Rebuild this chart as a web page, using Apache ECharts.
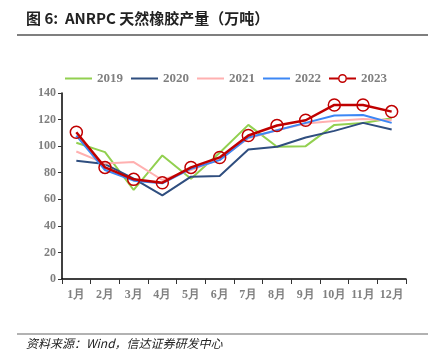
<!DOCTYPE html>
<html><head><meta charset="utf-8">
<script src="https://cdn.jsdelivr.net/npm/echarts@6/dist/echarts.min.js"></script>
<style>html,body{margin:0;padding:0;background:#fff;}#c{width:440px;height:363px;}</style>
</head><body><div id="c"></div>
<script>
const categories = ['1月','2月','3月','4月','5月','6月','7月','8月','9月','10月','11月','12月'];
const yTicks = [0,20,40,60,80,100,120,140];
const s2019 = [102.5, 95.5, 67, 93, 75.5, 95, 116, 99.5, 100, 116, 117.5, 121];
const s2020 = [89, 86.5, 75.5, 63, 77, 77.5, 97.5, 99.5, 106.5, 111.5, 117.5, 112.5];
const s2021 = [96, 87, 88, 74.5, 82, 90, 106, 112, 117, 119, 120.5, 119.5];
const s2022 = [108, 82, 74, 72, 83, 89.5, 106.5, 112, 117.5, 123, 123.5, 117.5];
const s2023 = [110.5, 84, 75, 72.5, 84, 91.5, 108, 115.5, 119.5, 131, 131, 126];

const colors = {'2019':'#92D050','2020':'#2F4E7F','2021':'#FFB0B0','2022':'#3C87F5','2023':'#C00000'};
const box = 'M0,0L0.01,0L0.01,0.01Z M26.99,11.99L27,11.99L27,12Z ';
const lineIcon = 'path://' + box + 'M0,5L27,5L27,7L0,7Z';
const ringIcon = 'path://' + box + 'M0,5L9,5L9,7L0,7Z M18,5L27,5L27,7L18,7Z ' +
  'M18,6A4.5,4.5 0 1 0 9,6A4.5,4.5 0 1 0 18,6Z M16.5,6A3,3 0 1 1 10.5,6A3,3 0 1 1 16.5,6Z';

const chart = echarts.init(document.getElementById('c'));
const lbl = {color:'#7f7f7f', fontWeight:'bold', fontFamily:'Liberation Serif', fontSize:12};
function line(name, data, w){
  return {name, type:'line', data, symbol:'none', lineStyle:{color:colors[name], width:w}, itemStyle:{color:colors[name]}, z:2};
}
function legItem(name, icon){
  return {name, icon, itemStyle:{color:colors[name], borderWidth:0, opacity:1}};
}
chart.setOption({
  animation:false,
  graphic:[
    {type:'text', left:26, top:11, style:{text:'图 6:  ANRPC 天然橡胶产量（万吨）', fill:'#222', font:'bold 15px "Noto Sans CJK SC", sans-serif'}},
    {type:'line', shape:{x1:17, y1:35, x2:428, y2:35}, style:{stroke:'#555', lineWidth:1.5}},
    {type:'line', shape:{x1:17, y1:334, x2:428, y2:334}, style:{stroke:'#999', lineWidth:1.5}},
    {type:'text', left:26, top:337, style:{text:'资料来源：Wind，信达证券研发中心', fill:'#222', font:'italic 12px "Noto Sans CJK SC", sans-serif'}}
  ],
  legend:{
    left:60, top:67, itemWidth:27, itemHeight:12, itemGap:8,
    textStyle:{color:'#7f7f7f', fontWeight:'bold', fontFamily:'Liberation Serif', fontSize:13},
    data:[legItem('2019',lineIcon),legItem('2020',lineIcon),legItem('2021',lineIcon),legItem('2022',lineIcon),legItem('2023',ringIcon)]
  },
  grid:{left:62, right:34, top:93, bottom:84},
  xAxis:{type:'category', data:categories, boundaryGap:true,
    axisLine:{lineStyle:{color:'#000', width:1.5}},
    axisTick:{show:true, alignWithLabel:false, length:5, lineStyle:{color:'#333'}},
    axisLabel:Object.assign({margin:10, interval:0}, lbl)},
  yAxis:{type:'value', min:0, max:140, interval:20,
    axisLine:{show:true, lineStyle:{color:'#000', width:1.5}},
    axisTick:{show:true, length:4, lineStyle:{color:'#333'}},
    splitLine:{show:false},
    axisLabel:Object.assign({margin:6, formatter:v=>yTicks.includes(v)?String(v):''}, lbl)},
  series:[
    line('2019', s2019, 2),
    line('2020', s2020, 2),
    line('2021', s2021, 2),
    line('2022', s2022, 2),
    {name:'2023', type:'line', data:s2023, symbol:'circle', symbolSize:12, showSymbol:true,
     lineStyle:{color:colors['2023'], width:2.5},
     itemStyle:{color:'rgba(255,255,255,0)', borderColor:colors['2023'], borderWidth:1.5}, z:3}
  ]
});
</script></body></html>
